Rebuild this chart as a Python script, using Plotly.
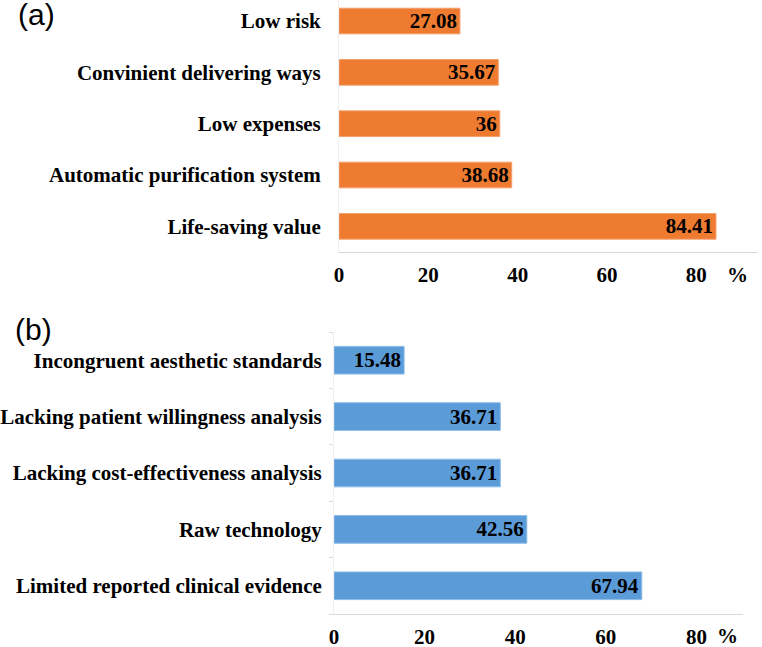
import plotly.graph_objects as go

# Panel (a)
cats_a = ["Life-saving value", "Automatic purification system", "Low expenses",
          "Convinient delivering ways", "Low risk"]
vals_a = [84.41, 38.68, 36, 35.67, 27.08]

# Panel (b)
cats_b = ["Limited reported clinical evidence", "Raw technology",
          "Lacking cost-effectiveness analysis", "Lacking patient willingness analysis",
          "Incongruent aesthetic standards"]
vals_b = [67.94, 42.56, 36.71, 36.71, 15.48]

xticks = [0, 20, 40, 60, 80]

W, H = 762, 647
serif = "Liberation Serif, Times New Roman, serif"
font_b = dict(family=serif, size=21, color="black", weight="bold")

fig = go.Figure()
fig.add_trace(go.Bar(
    x=vals_a, y=cats_a, orientation="h", xaxis="x", yaxis="y",
    marker=dict(color="#EE7B30", line=dict(color="#F4A070", width=1)),
    width=0.5, text=[f"{v:g}" for v in vals_a], textposition="inside",
    insidetextanchor="end", textangle=0, textfont=font_b, constraintext="none",
    cliponaxis=False, showlegend=False))
fig.add_trace(go.Bar(
    x=vals_b, y=cats_b, orientation="h", xaxis="x2", yaxis="y2",
    marker=dict(color="#5B9BD8", line=dict(color="#8BBCE8", width=1)),
    width=0.49, text=[f"{v:g}" for v in vals_b], textposition="inside",
    insidetextanchor="end", textangle=0, textfont=font_b, constraintext="none",
    cliponaxis=False, showlegend=False))

axis_line = "#D9D9D9"
fig.update_layout(
    width=W, height=H, margin=dict(l=0, r=0, t=0, b=0, autoexpand=False),
    paper_bgcolor="white", plot_bgcolor="white",
    font=dict(family=serif, size=21, color="black"),
    xaxis=dict(domain=[339 / W, 758 / W], range=[0, (758 - 339) / 4.466],
               tickvals=xticks, showgrid=False, zeroline=False, automargin=False,
               showline=True, linecolor=axis_line, linewidth=1,
               tickfont=font_b, ticklabelstandoff=4, anchor="y"),
    yaxis=dict(domain=[1 - 252 / H, 1], range=[-0.5, 4.41], automargin=False,
               categoryorder="array", categoryarray=cats_a,
               showgrid=False, zeroline=False, showline=True,
               linecolor="#EFEFEF", linewidth=1,
               tickfont=font_b, ticklabelstandoff=13, anchor="x"),
    xaxis2=dict(domain=[334 / W, 743 / W], range=[0, (743 - 334) / 4.53],
                tickvals=xticks, showgrid=False, zeroline=False, automargin=False,
                showline=True, linecolor=axis_line, linewidth=1,
                tickfont=font_b, ticklabelstandoff=4, anchor="y2"),
    yaxis2=dict(domain=[1 - 614 / H, 1 - 332 / H], range=[-0.5, 4.5], automargin=False,
                categoryorder="array", categoryarray=cats_b,
                showgrid=False, zeroline=False, showline=True,
                linecolor="#EFEFEF", linewidth=1,
                ticks="outside", tickson="boundaries", ticklen=4,
                tickcolor=axis_line,
                tickfont=font_b, ticklabelstandoff=7, anchor="x2"),
    annotations=[
        dict(text="(a)", x=16 / W, y=1 - 15 / H, xref="paper", yref="paper",
             xanchor="left", yanchor="middle", showarrow=False,
             font=dict(family="Liberation Sans, Arial, sans-serif", size=30, color="black")),
        dict(text="(b)", x=13 / W, y=1 - 329 / H, xref="paper", yref="paper",
             xanchor="left", yanchor="middle", showarrow=False,
             font=dict(family="Liberation Sans, Arial, sans-serif", size=30, color="black")),
        dict(text="%", x=737 / W, y=1 - 275 / H, xref="paper", yref="paper",
             xanchor="center", yanchor="middle", showarrow=False, font=font_b),
        dict(text="%", x=727 / W, y=1 - 636 / H, xref="paper", yref="paper",
             xanchor="center", yanchor="middle", showarrow=False, font=font_b),
    ],
)

fig.write_html("out.html", config={"displayModeBar": False},
               post_script="document.body.style.margin='0';document.body.style.overflow='hidden';")
